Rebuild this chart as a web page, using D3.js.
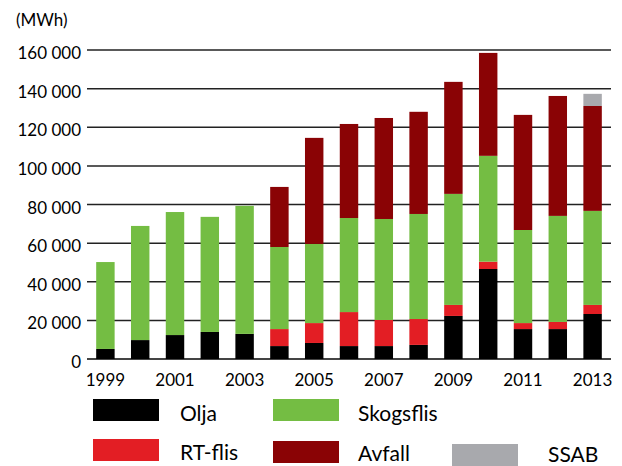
<!DOCTYPE html>
<html>
<head>
<meta charset="utf-8">
<script src="https://cdn.jsdelivr.net/npm/d3@7"></script>
<style>
  body { margin: 0; background: #fff; }
  text { font-family: Lato, "Open Sans", sans-serif; fill: #000; }
</style>
</head>
<body>
<script>

var width = 622;
var height = 466;

// data (MWh)
var years = ["1999","2000","2001","2002","2003","2004","2005","2006","2007","2008","2009","2010","2011","2012","2013"];
var olja      = [5200, 9800, 12400, 14000, 13000, 6700, 8300, 6700, 6700, 7300, 22300, 46600, 15500, 15500, 23300];
var rtflis    = [0, 0, 0, 0, 0, 8800, 10300, 17600, 13500, 13400, 5700, 3800, 3100, 3700, 4700];
var skogsflis = [45000, 59100, 63700, 59600, 66300, 42500, 41000, 48700, 52300, 54400, 57500, 54800, 48200, 54900, 48700];
var avfall    = [0, 0, 0, 0, 0, 31100, 54900, 48700, 52300, 52900, 58000, 53300, 59600, 62100, 54300];
var ssab      = [0, 0, 0, 0, 0, 0, 0, 0, 0, 0, 0, 0, 0, 0, 6300];
var yTicks = [0, 20000, 40000, 60000, 80000, 100000, 120000, 140000, 160000];
var xLabels = ["1999","2001","2003","2005","2007","2009","2011","2013"];

var seriesKeys = ["Olja", "RT-flis", "Skogsflis", "Avfall", "SSAB"];
var seriesVals = [olja, rtflis, skogsflis, avfall, ssab];
var color = d3.scaleOrdinal()
  .domain(seriesKeys)
  .range(["#000000", "#e31e24", "#74bd43", "#8a0305", "#a8a9ad"]);

var rows = years.map(function(y, i) {
  var r = {year: y};
  seriesKeys.forEach(function(k, j) { r[k] = seriesVals[j][i]; });
  return r;
});

var svg = d3.select("body")
      .append("svg")
      .attr("width", width)
      .attr("height", height);

var x = d3.scaleBand()
  .domain(years)
  .range([87, 611])
  .paddingInner(0.47)
  .paddingOuter(0.264);

var y = d3.scaleLinear()
  .domain([0, 160000])
  .range([359, 50]);

var fmt = function(d) { return d3.format(",")(d).replace(/,/g, " "); };

// grid lines
svg.append("g").selectAll("line")
  .data(yTicks)
  .enter().append("line")
  .attr("x1", 87)
  .attr("x2", 611)
  .attr("y1", function(d) { return y(d); })
  .attr("y2", function(d) { return y(d); })
  .attr("stroke", function(d) { return d == 0 ? "#444" : "#222"; })
  .attr("stroke-width", function(d) { return d == 0 ? 2.2 : 1.5; });

// y labels
svg.append("g").selectAll("text")
  .data(yTicks)
  .enter().append("text")
  .attr("x", 81)
  .attr("y", function(d) { return y(d) + 9; })
  .attr("text-anchor", "end")
  .attr("font-size", "17px")
  .text(fmt);

svg.append("text")
  .attr("x", 16)
  .attr("y", 26)
  .attr("font-size", "17px")
  .text("(MWh)");

// stacked bars
var stack = d3.stack().keys(seriesKeys);
var layers = stack(rows);

svg.append("g").selectAll("g")
  .data(layers)
  .enter().append("g")
  .attr("fill", function(d) { return color(d.key); })
  .selectAll("rect")
  .data(function(d) { return d.filter(function(p) { return p[1] > p[0]; }); })
  .enter().append("rect")
  .attr("x", function(d) { return x(d.data.year); })
  .attr("width", x.bandwidth())
  .attr("y", function(d) { return y(d[1]); })
  .attr("height", function(d) { return y(d[0]) - y(d[1]); });

// x labels
svg.append("g").selectAll("text")
  .data(xLabels)
  .enter().append("text")
  .attr("x", function(d) { return x(d) + x.bandwidth() / 2; })
  .attr("y", 386)
  .attr("text-anchor", "middle")
  .attr("font-size", "17px")
  .text(function(d) { return d; });

// legend
var legend = [
  {key: "Olja",      rx: 93,  ry: 399, tx: 180, ty: 421},
  {key: "Skogsflis", rx: 273, ry: 399, tx: 358, ty: 421},
  {key: "RT-flis",   rx: 93,  ry: 439, tx: 180, ty: 460},
  {key: "Avfall",    rx: 273, ry: 441, tx: 358, ty: 461},
  {key: "SSAB",      rx: 452, ry: 444, tx: 548, ty: 462}
];

var lg = svg.append("g").selectAll("g")
  .data(legend)
  .enter().append("g");

lg.append("rect")
  .attr("x", function(d) { return d.rx; })
  .attr("y", function(d) { return d.ry; })
  .attr("width", 66)
  .attr("height", 22)
  .attr("fill", function(d) { return color(d.key); });

lg.append("text")
  .attr("x", function(d) { return d.tx; })
  .attr("y", function(d) { return d.ty; })
  .attr("font-size", "21px")
  .text(function(d) { return d.key; });

</script>
</body>
</html>
